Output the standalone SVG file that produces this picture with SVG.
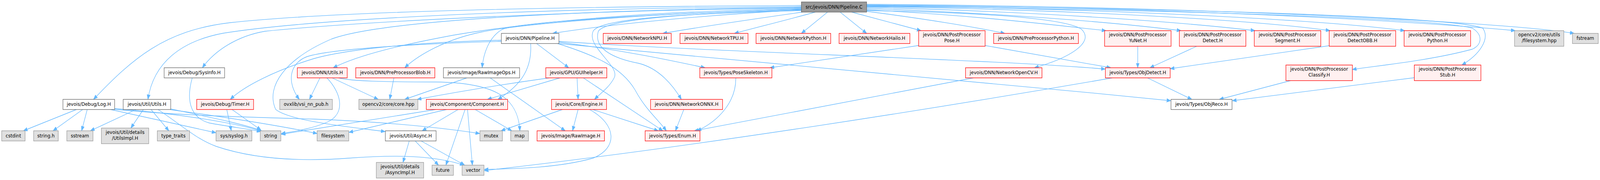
<svg xmlns="http://www.w3.org/2000/svg" width="4586" height="461" viewBox="0 0 4586 461" preserveAspectRatio="none" style="width:100vw;height:100vh;display:block">
<style>
text{font-family:"DejaVu Sans","Liberation Sans",sans-serif;font-size:13px;text-anchor:middle;fill:#000}
.w rect{fill:#fff;stroke:#666;stroke-width:1.33}
.r rect{fill:#fff0f0;stroke:#ff0000;stroke-width:1.33}
.g rect{fill:#e0e0e0;stroke:#999;stroke-width:1.33}
.k rect{fill:#999;stroke:#666;stroke-width:1.33}
#edges path{fill:none;stroke:#63b8ff;stroke-width:1.33;marker-end:url(#a)}
</style>
<defs>
<marker id="a" markerUnits="userSpaceOnUse" markerWidth="12" markerHeight="10" refX="12" refY="5" orient="auto" viewBox="0 0 12 10"><path d="M0,0.5 L12,5 L0,9.5 Z" fill="#63b8ff" stroke="#63b8ff" stroke-width="1"/></marker>
</defs>
<rect x="0" y="0" width="4586" height="461" fill="#fff"/>
<g id="edges">
<path d="M2297,14 C1400,18 900,35 660,58 C470,78 380,150 268,254.5"/>
<path d="M2297,17 C1400,22 850,55 640,85 C520,105 440,160 424,254.5"/>
<path d="M2297,20 C1600,28 1000,58 760,80 C680,92 615,130 580,173.5"/>
<path d="M2297,22 C1800,30 1500,60 1300,90 C1150,115 1030,140 955,173.5"/>
<path d="M2297,24 C1900,32 1500,60 1380,82 C1280,100 1200,140 1160,173.5"/>
<path d="M2297,23 C1900,35 1500,55 1440,75 C1400,95 1385,140 1382,173.5"/>
<path d="M2297,19 C1700,25 1100,50 950,100 C820,150 760,220 790,280 C830,310 1000,325 1104,337"/>
<path d="M2297,25 C2000,40 1750,62 1584,85.5"/>
<path d="M2300,31 C2150,50 2000,70 1900,85.5"/>
<path d="M2337,31 C2260,50 2170,70 2105,85.5"/>
<path d="M2372,31 L2297,85.5"/>
<path d="M2408,31 L2484,85.5"/>
<path d="M2441,31 L2640,78.5"/>
<path d="M2484,29 C2650,48 2800,70 2880,85.5"/>
<path d="M2484,25 C2800,40 3000,62 3170,78.5"/>
<path d="M2484,22 C2900,35 3200,58 3385,78.5"/>
<path d="M2484,19 C3000,30 3400,58 3597,78.5"/>
<path d="M2484,17 C3100,25 3600,52 3812,78.5"/>
<path d="M2484,15 C3200,22 3800,52 4026,78.5"/>
<path d="M2484,13 C3300,18 4000,50 4343,78.5"/>
<path d="M2484,11 C3400,16 4300,55 4512,85.5"/>
<path d="M2484,16 C3300,24 4100,45 4220,72 C4252,90 4247,115 4220,126 C4100,155 3950,168 3876,178"/>
<path d="M2484,14 C3300,20 4150,40 4250,72 C4272,100 4240,140 4190,166.5"/>
<path d="M2484,27 C2800,32 3050,45 3100,75 C3140,110 3060,150 2965,173.5"/>
<path d="M2297,27 C2000,34 1720,45 1700,80 C1680,120 1780,170 1760,200 C1745,225 1720,240 1704,254.5"/>
<path d="M2297,26 C2050,32 1740,44 1715,80 C1700,125 1760,150 1830,162 C1890,175 1930,220 1953,254.5"/>
<path d="M1437,103 C1200,108 1000,125 900,150 C790,180 700,220 660,254.5"/>
<path d="M1437,106 C1200,112 950,125 880,145 C830,162 820,210 858,254.5"/>
<path d="M1538,111.5 L1630,173.5"/>
<path d="M1521,111.5 C1525,170 1500,215 1427,254.5"/>
<path d="M1598,111.5 C1700,140 1780,170 1820,230 C1850,280 1885,305 1910,335"/>
<path d="M1602,108 C1800,130 1950,160 2021,173.5"/>
<path d="M1602,106 C1900,125 2400,140 2800,157 C2950,163 3080,170 3168,177"/>
<path d="M1600,111.5 C2000,140 2700,200 3356,258"/>
<path d="M1574,199.5 C1450,215 1300,237 1196,254.5"/>
<path d="M1605,199.5 L1397,254.5"/>
<path d="M1654,199.5 L1657,254.5"/>
<path d="M1672,199.5 L1900,335"/>
<path d="M917,199.5 L887,254.5"/>
<path d="M937,199.5 C980,240 990,290 940,312 C900,328 850,336 806,342"/>
<path d="M952,199.5 L1084,254.5"/>
<path d="M970,199.5 C1010,208 1100,210 1250,210 C1400,212 1485,240 1490,335"/>
<path d="M1129,199.5 L1117,254.5"/>
<path d="M1338,199.5 L1160,254.5"/>
<path d="M1405,199.5 L1620,335"/>
<path d="M1249,280.5 L806,344"/>
<path d="M1280,280.5 L1000,339"/>
<path d="M1313,280.5 L1210,335"/>
<path d="M1333,280.5 L1278,423"/>
<path d="M1340,280.5 L1354,423"/>
<path d="M1362,280.5 L1467,335"/>
<path d="M1173,361 L1155,416"/>
<path d="M1190,361 L1257,423"/>
<path d="M1207,361 L1332,423"/>
<path d="M390,280.5 L259,335"/>
<path d="M411,280.5 L375,328"/>
<path d="M433,280.5 L484,335"/>
<path d="M453,280.5 C520,320 560,355 620,375 C720,405 850,415 1000,405 C1150,395 1250,400 1330,423"/>
<path d="M489,279 C600,300 700,318 750,335"/>
<path d="M489,281 C650,300 820,325 909,342"/>
<path d="M219,280.5 L67,335"/>
<path d="M237,280.5 L152,335"/>
<path d="M250,280.5 L234,335"/>
<path d="M317,280.5 L619,340"/>
<path d="M329,278 C500,290 680,315 748,336"/>
<path d="M329,280 C500,295 700,300 900,305 C1100,312 1250,325 1375,342"/>
<path d="M650,280.5 L663,335"/>
<path d="M665,280.5 L748,333"/>
<path d="M551,199.5 C535,250 540,300 600,315 C660,325 710,330 748,337"/>
<path d="M1612,280.5 L1436,335"/>
<path d="M1657,280.5 L1641,335"/>
<path d="M1699,280.5 L1887,335"/>
<path d="M1690,280.5 C1770,320 1770,380 1700,405 C1600,430 1480,432 1388,434"/>
<path d="M1960,280.5 L1936,335"/>
<path d="M2109,199.5 C2110,260 2060,310 1998,335"/>
<path d="M2790,199.5 L1990,335"/>
<path d="M3289,199.5 L3416,254.5"/>
<path d="M3188,199.5 C2700,275 2000,375 1388,437"/>
<path d="M2633,116.5 L2207,173.5"/>
<path d="M2823,116.5 L3184,173.5"/>
<path d="M3261,118.5 L3261,173.5"/>
<path d="M3430,118.5 L3296,173.5"/>
<path d="M3810,117 L3354,176"/>
<path d="M3699,206.5 L3495,254.5"/>
<path d="M4054,199 L3532,258"/>
</g>
<g id="n_root" class="k"><rect x="2297" y="5" width="187" height="26"/><text x="2390.5" y="22">src/jevois/DNN/Pipeline.C</text></g>
<g id="n_pipelineh" class="w"><rect x="1437" y="85.5" width="165" height="26"/><text x="1519.5" y="102.5">jevois/DNN/Pipeline.H</text></g>
<g id="n_npu" class="r"><rect x="1729" y="85.5" width="195" height="26"/><text x="1826.5" y="102.5">jevois/DNN/NetworkNPU.H</text></g>
<g id="n_tpu" class="r"><rect x="1949" y="85.5" width="195" height="26"/><text x="2046.5" y="102.5">jevois/DNN/NetworkTPU.H</text></g>
<g id="n_netpython" class="r"><rect x="2167" y="85.5" width="214" height="26"/><text x="2274" y="102.5">jevois/DNN/NetworkPython.H</text></g>
<g id="n_hailo" class="r"><rect x="2405" y="85.5" width="203" height="26"/><text x="2506.5" y="102.5">jevois/DNN/NetworkHailo.H</text></g>
<g id="n_pose" class="r"><rect x="2633" y="78.5" width="190.6" height="40"/><text x="2728.3" y="93.5">jevois/DNN/PostProcessor</text><text x="2728.3" y="108.5">Pose.H</text></g>
<g id="n_prepython" class="r"><rect x="2848" y="85.5" width="243" height="26"/><text x="2969.5" y="102.5">jevois/DNN/PreProcessorPython.H</text></g>
<g id="n_yunet" class="r"><rect x="3166" y="78.5" width="190.6" height="40"/><text x="3261.3" y="93.5">jevois/DNN/PostProcessor</text><text x="3261.3" y="108.5">YuNet.H</text></g>
<g id="n_detect" class="r"><rect x="3380.4" y="78.5" width="190.6" height="40"/><text x="3475.7" y="93.5">jevois/DNN/PostProcessor</text><text x="3475.7" y="108.5">Detect.H</text></g>
<g id="n_segment" class="r"><rect x="3595.1" y="78.5" width="190.6" height="40"/><text x="3690.4" y="93.5">jevois/DNN/PostProcessor</text><text x="3690.4" y="108.5">Segment.H</text></g>
<g id="n_detectobb" class="r"><rect x="3809.8" y="78.5" width="190.6" height="40"/><text x="3905.1" y="93.5">jevois/DNN/PostProcessor</text><text x="3905.1" y="108.5">DetectOBB.H</text></g>
<g id="n_postpython" class="r"><rect x="4024.5" y="78.5" width="190.6" height="40"/><text x="4119.8" y="93.5">jevois/DNN/PostProcessor</text><text x="4119.8" y="108.5">Python.H</text></g>
<g id="n_cvfs" class="g"><rect x="4341" y="78.5" width="141.4" height="40"/><text x="4411.7" y="93.5">opencv2/core/utils</text><text x="4411.7" y="108.5">/filesystem.hpp</text></g>
<g id="n_fstream" class="g"><rect x="4507" y="85.5" width="74" height="26"/><text x="4544" y="102.5">fstream</text></g>
<g id="n_sysinfo" class="w"><rect x="470.5" y="173.5" width="173.3" height="26"/><text x="557.2" y="190.5">jevois/Debug/SysInfo.H</text></g>
<g id="n_dnnutils" class="r"><rect x="852.2" y="173.5" width="143" height="26"/><text x="923.7" y="190.5">jevois/DNN/Utils.H</text></g>
<g id="n_blob" class="r"><rect x="1019.6" y="173.5" width="226.8" height="26"/><text x="1133" y="190.5">jevois/DNN/PreProcessorBlob.H</text></g>
<g id="n_rawops" class="w"><rect x="1271" y="173.5" width="218.3" height="26"/><text x="1380.2" y="190.5">jevois/Image/RawImageOps.H</text></g>
<g id="n_gui" class="r"><rect x="1564.3" y="173.5" width="175" height="26"/><text x="1651.8" y="190.5">jevois/GPU/GUIhelper.H</text></g>
<g id="n_poseskel" class="r"><rect x="2005.8" y="173.5" width="206.7" height="26"/><text x="2109.2" y="190.5">jevois/Types/PoseSkeleton.H</text></g>
<g id="n_opencv" class="r"><rect x="2767.4" y="173.5" width="219.2" height="26"/><text x="2877" y="190.5">jevois/DNN/NetworkOpenCV.H</text></g>
<g id="n_objdetect" class="r"><rect x="3168.3" y="173.5" width="185.7" height="26"/><text x="3261.2" y="190.5">jevois/Types/ObjDetect.H</text></g>
<g id="n_classify" class="r"><rect x="3685.7" y="166.5" width="190.6" height="40"/><text x="3781" y="181.5">jevois/DNN/PostProcessor</text><text x="3781" y="196.5">Classify.H</text></g>
<g id="n_stub" class="r"><rect x="4053.7" y="166.5" width="191" height="40"/><text x="4149.2" y="181.5">jevois/DNN/PostProcessor</text><text x="4149.2" y="196.5">Stub.H</text></g>
<g id="n_log" class="w"><rect x="180.4" y="254.5" width="148.2" height="26"/><text x="254.5" y="271.5">jevois/Debug/Log.H</text></g>
<g id="n_utils" class="w"><rect x="353.1" y="254.5" width="136.2" height="26"/><text x="421.2" y="271.5">jevois/Util/Utils.H</text></g>
<g id="n_timer" class="r"><rect x="563.8" y="254.5" width="163" height="26"/><text x="645.3" y="271.5">jevois/Debug/Timer.H</text></g>
<g id="n_ovx" class="g"><rect x="801.8" y="254.5" width="150.9" height="26"/><text x="877.3" y="271.5">ovxlib/vsi_nn_pub.h</text></g>
<g id="n_corehpp" class="g"><rect x="1028.6" y="254.5" width="169.2" height="26"/><text x="1113.2" y="271.5">opencv2/core/core.hpp</text></g>
<g id="n_component" class="r"><rect x="1221.9" y="254.5" width="233.1" height="26"/><text x="1338.5" y="271.5">jevois/Component/Component.H</text></g>
<g id="n_engine" class="r"><rect x="1580.8" y="254.5" width="157.6" height="26"/><text x="1659.6" y="271.5">jevois/Core/Engine.H</text></g>
<g id="n_onnx" class="r"><rect x="1864.7" y="254.5" width="206.3" height="26"/><text x="1967.9" y="271.5">jevois/DNN/NetworkONNX.H</text></g>
<g id="n_objreco" class="w"><rect x="3356.3" y="254.5" width="175" height="26"/><text x="3443.8" y="271.5">jevois/Types/ObjReco.H</text></g>
<g id="n_cstdint" class="g"><rect x="4.9" y="335" width="67" height="26"/><text x="38.4" y="352">cstdint</text></g>
<g id="n_stringh" class="g"><rect x="96.4" y="335" width="70.6" height="26"/><text x="131.7" y="352">string.h</text></g>
<g id="n_sstream" class="g"><rect x="191.5" y="335" width="75" height="26"/><text x="229" y="352">sstream</text></g>
<g id="n_utilsimpl" class="g"><rect x="290.6" y="328" width="135.7" height="40"/><text x="358.5" y="343">jevois/Util/details</text><text x="358.5" y="358">/UtilsImpl.H</text></g>
<g id="n_typetraits" class="g"><rect x="450.9" y="335" width="92.4" height="26"/><text x="497.1" y="352">type_traits</text></g>
<g id="n_syslog" class="g"><rect x="619.2" y="335" width="102.7" height="26"/><text x="670.6" y="352">sys/syslog.h</text></g>
<g id="n_string" class="g"><rect x="746" y="335" width="59" height="26"/><text x="775.5" y="352">string</text></g>
<g id="n_filesystem" class="g"><rect x="908.9" y="335" width="90.7" height="26"/><text x="954.3" y="352">filesystem</text></g>
<g id="n_async" class="w"><rect x="1104.5" y="335" width="145.5" height="26"/><text x="1177.3" y="352">jevois/Util/Async.H</text></g>
<g id="n_mutex" class="g"><rect x="1375.5" y="335" width="64.5" height="26"/><text x="1407.8" y="352">mutex</text></g>
<g id="n_map" class="g"><rect x="1463.8" y="335" width="50.9" height="26"/><text x="1489.3" y="352">map</text></g>
<g id="n_rawimage" class="r"><rect x="1539.3" y="335" width="193.3" height="26"/><text x="1636" y="352">jevois/Image/RawImage.H</text></g>
<g id="n_enum" class="r"><rect x="1849.1" y="335" width="157.2" height="26"/><text x="1927.7" y="352">jevois/Types/Enum.H</text></g>
<g id="n_asyncimpl" class="g"><rect x="1078.6" y="416" width="135.7" height="40"/><text x="1146.5" y="431">jevois/Util/details</text><text x="1146.5" y="446">/AsyncImpl.H</text></g>
<g id="n_future" class="g"><rect x="1238.4" y="423" width="61.2" height="26"/><text x="1269" y="440">future</text></g>
<g id="n_vector" class="g"><rect x="1324.5" y="423" width="62.7" height="26"/><text x="1355.9" y="440">vector</text></g>
</svg>
